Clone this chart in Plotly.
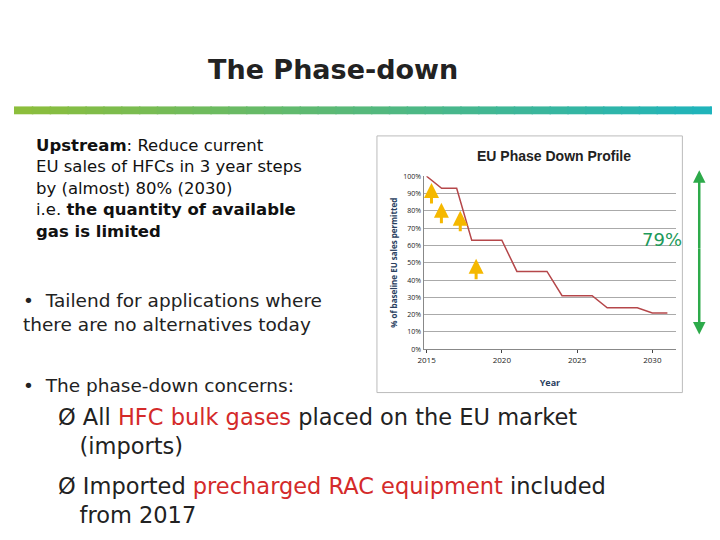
import plotly.graph_objects as go

years = list(range(2015, 2032))
permitted = [1.00, 0.93, 0.93, 0.63, 0.63, 0.63, 0.45, 0.45, 0.45, 0.31, 0.31, 0.31, 0.24, 0.24, 0.24, 0.21, 0.21]
yticks = [i / 10 for i in range(11)]
ytick_text = [f"{i*10}%" for i in range(11)]
xticks = [2015, 2020, 2025, 2030]

W, H = 720, 540
def px(x): return x / W
def py(y): return 1 - y / H

fig = go.Figure()
fig.add_trace(go.Scatter(x=years, y=permitted, mode="lines",
                         line=dict(color="#B5474A", width=1.5), showlegend=False, hoverinfo="skip"))

shapes = []
n = 40
c0 = (140, 190, 60); c1 = (30, 180, 190)
for i in range(n):
    t = i / (n - 1)
    col = "rgb(%d,%d,%d)" % tuple(int(c0[k] + (c1[k] - c0[k]) * t) for k in range(3))
    shapes.append(dict(type="rect", xref="paper", yref="paper", x0=i / n, x1=(i + 1) / n + 0.002,
                       y0=py(103), y1=py(95), fillcolor=col, line=dict(width=0), layer="below"))
shapes.append(dict(type="rect", xref="paper", yref="paper", x0=px(366), x1=px(674), y0=py(386), y1=py(125),
                   line=dict(color="#BBBBBB", width=1), fillcolor="white", layer="below"))

ann = []
ann.append(dict(text="<b>The Phase-down</b>", x=px(322), y=py(57), xref="paper", yref="paper", showarrow=False,
                font=dict(size=27, color="#222", family="DejaVu Sans"), xanchor="center", yanchor="middle"))
ann.append(dict(text="<b>Upstream</b>: Reduce current<br>EU sales of HFCs in 3 year steps<br>by (almost) 80% (2030)<br>i.e. <b>the quantity of available<br>gas is limited</b>",
                x=px(20), y=py(123), xref="paper", yref="paper", showarrow=False, align="left",
                xanchor="left", yanchor="top", font=dict(size=16.5, color="#111", family="DejaVu Sans")))
ann.append(dict(text="•  Tailend for applications where<br>there are no alternatives today", x=px(7), y=py(280),
                xref="paper", yref="paper", showarrow=False, align="left", xanchor="left", yanchor="top",
                font=dict(size=18.5, color="#222", family="DejaVu Sans")))
ann.append(dict(text="•  The phase-down concerns:", x=px(7), y=py(366), xref="paper", yref="paper", showarrow=False,
                align="left", xanchor="left", yanchor="top", font=dict(size=18.5, color="#222", family="DejaVu Sans")))
ann.append(dict(text="Ø All <span style='color:#D42A2A'>HFC bulk gases</span> placed on the EU market<br>   (imports)",
                x=px(42), y=py(396), xref="paper", yref="paper", showarrow=False, align="left", xanchor="left",
                yanchor="top", font=dict(size=22.5, color="#222", family="DejaVu Sans")))
ann.append(dict(text="Ø Imported <span style='color:#D42A2A'>precharged RAC equipment</span> included<br>   from 2017",
                x=px(42), y=py(466), xref="paper", yref="paper", showarrow=False, align="left", xanchor="left",
                yanchor="top", font=dict(size=22.5, color="#222", family="DejaVu Sans")))
ann.append(dict(text="<b>EU Phase Down Profile</b>", x=px(545), y=py(145), xref="paper", yref="paper", showarrow=False,
                font=dict(size=14, color="#222", family="Liberation Sans Narrow, Liberation Sans"), xanchor="center", yanchor="middle"))
ann.append(dict(text="79%", x=px(653), y=py(230), xref="paper", yref="paper", showarrow=False,
                font=dict(size=18, color="#1E9A5A", family="DejaVu Sans"), xanchor="center", yanchor="middle"))
for (ax_, ay_) in [(421, 185), (431, 205), (450, 213), (466, 262)]:
    ann.append(dict(x=px(ax_), y=py(ay_ - 12), ax=0, ay=22, xref="paper", yref="paper",
                    axref="pixel", ayref="pixel", text="", showarrow=True, arrowhead=2, arrowsize=1,
                    arrowwidth=3, arrowcolor="#F5B800"))
for (head, off) in [(160, 80), (327, -87)]:
    ann.append(dict(x=px(691), y=py(head), ax=0, ay=off, xref="paper", yref="paper",
                    axref="pixel", ayref="pixel", text="", showarrow=True, arrowhead=2, arrowsize=1,
                    arrowwidth=2.5, arrowcolor="#2DAA4A"))

fig.update_layout(width=W, height=H, margin=dict(l=0, r=0, t=0, b=0), paper_bgcolor="white",
                  plot_bgcolor="white", shapes=shapes, annotations=ann,
                  xaxis=dict(domain=[px(413), px(668)], range=[2014.8, 2031.6], tickvals=xticks,
                             showgrid=False, showline=True, linecolor="#888", ticks="outside", ticklen=3,
                             tickfont=dict(size=8, color="#222"), title=dict(text="<b>Year</b>", font=dict(size=9)),
                             fixedrange=True),
                  yaxis=dict(domain=[py(342), py(166)], range=[0, 1.0], tickvals=yticks, ticktext=ytick_text,
                             showgrid=True, gridcolor="#AAAAAA", showline=True, linecolor="#888", zeroline=False,
                             tickfont=dict(size=7, color="#222"),
                             title=dict(text="<b>% of baseline EU sales permitted</b>", font=dict(size=8), standoff=4)))
fig.write_html("out.html")
